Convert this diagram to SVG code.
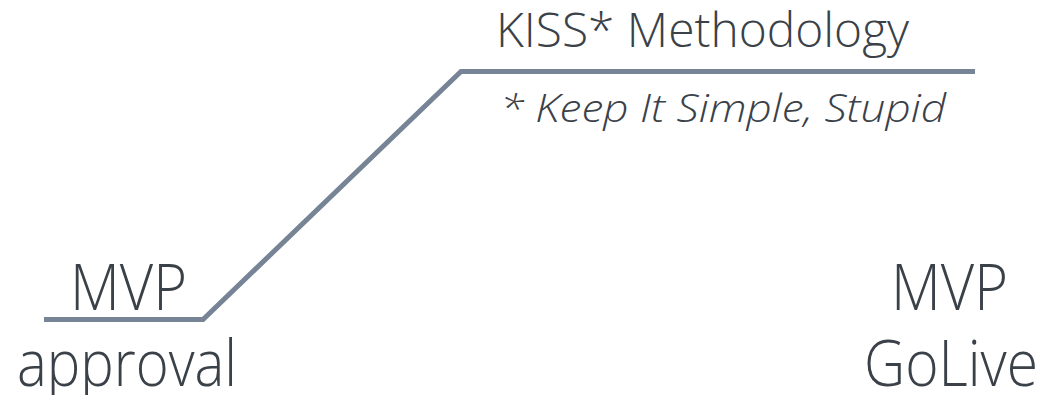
<svg xmlns="http://www.w3.org/2000/svg" width="1043" height="395" viewBox="0 0 1043 395">
<style>
text{font-family:"Open Sans","Noto Sans","Liberation Sans",sans-serif;font-weight:300;fill:#3a4148}
.big{font-size:64px}
.title{font-size:47px}
.note{font-size:38px;font-style:italic}
.line{fill:none;stroke:#768496;stroke-width:5;stroke-linejoin:miter}
</style>
<rect width="1043" height="395" fill="#ffffff"/>
<g id="connectors">
<polyline class="line" points="44,319.5 203,319.5 461,71.5 975,71.5"/>
</g>
<g id="node-start">
<text class="big" x="70" y="310" textLength="117" lengthAdjust="spacingAndGlyphs">MVP</text>
<text class="big" x="17" y="386" textLength="220" lengthAdjust="spacingAndGlyphs">approval</text>
</g>
<g id="node-kiss">
<text class="title" x="496" y="47" textLength="413" lengthAdjust="spacingAndGlyphs">KISS* Methodology</text>
<text class="note" x="500" y="122" textLength="446" lengthAdjust="spacingAndGlyphs">* Keep It Simple, Stupid</text>
</g>
<g id="node-end">
<text class="big" x="891" y="310" textLength="117" lengthAdjust="spacingAndGlyphs">MVP</text>
<text class="big" x="864" y="386" textLength="174" lengthAdjust="spacingAndGlyphs">GoLive</text>
</g>
</svg>
